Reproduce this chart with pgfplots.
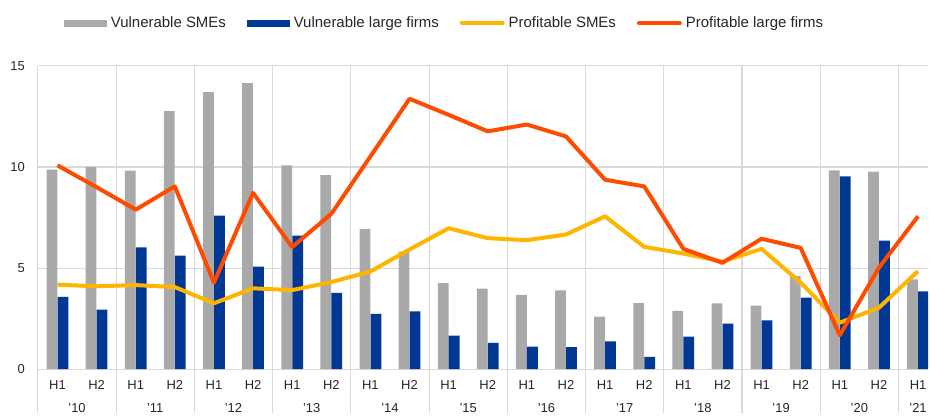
\documentclass[border=0pt]{standalone}
\usepackage{fontspec}
\setmainfont{Liberation Sans}
\usepackage{pgfplots}
\usepackage{pgfplotstable}
\pgfplotsset{compat=1.18}
\definecolor{greybar}{HTML}{A9A9A9}
\definecolor{bluebar}{HTML}{003894}
\definecolor{yelline}{HTML}{FFB400}
\definecolor{orline}{HTML}{FF4B00}
\definecolor{gridc}{HTML}{D9D9D9}
\pgfplotstableread{
x vs vl ps pl
0 9.87 3.58 4.18 10.08
1 10.00 2.94 4.10 9.00
2 9.82 6.02 4.16 7.89
3 12.76 5.62 4.06 9.04
4 13.70 7.60 3.26 4.28
5 14.14 5.07 4.00 8.72
6 10.08 6.61 3.91 6.04
7 9.60 3.77 4.31 7.68
8 6.94 2.73 4.83 10.52
9 5.82 2.86 5.92 13.37
10 4.26 1.66 6.97 12.58
11 3.98 1.30 6.48 11.76
12 3.68 1.12 6.38 12.10
13 3.90 1.09 6.66 11.51
14 2.60 1.37 7.56 9.37
15 3.27 0.61 6.05 9.04
16 2.88 1.61 5.72 5.95
17 3.26 2.25 5.32 5.26
18 3.14 2.42 5.95 6.45
19 4.62 3.54 4.28 6.00
20 9.83 9.54 2.30 1.68
21 9.77 6.36 3.04 5.02
22 4.44 3.85 4.85 7.56
}\datatable
\begin{document}
\begin{tikzpicture}
\path (0bp,0bp) rectangle (930bp,414bp);
\begin{axis}[
  at={(38bp,44bp)}, anchor=south west,
  scale only axis, width=892bp, height=304bp,
  xmin=-0.5, xmax=22.255, ymin=0, ymax=15,
  ytick={0,5,10,15},
  xtick={0,...,22},
  xticklabels={H1,H2,H1,H2,H1,H2,H1,H2,H1,H2,H1,H2,H1,H2,H1,H2,H1,H2,H1,H2,H1,H2,H1},
  minor xtick={-0.5,1.5,...,21.5},
  extra x ticks={0.5,2.5,4.5,6.5,8.5,10.5,12.5,14.5,16.5,18.5,20.5,22},
  extra x tick labels={'10,'11,'12,'13,'14,'15,'16,'17,'18,'19,'20,'21},
  extra x tick style={xticklabel style={yshift=-23bp}},
  ymajorgrids, xminorgrids,
  major grid style={gridc, line width=1.1bp},
  minor grid style={gridc, line width=1.1bp},
  axis x line*=bottom, axis y line*=left,
  axis line style={gridc, line width=1.1bp},
  tick align=outside,
  major tick length=0pt,
  minor tick length=43.5bp,
  minor tick style={gridc, line width=1.1bp},
  tick label style={font=\fontsize{13bp}{15bp}\selectfont, text=black!85},
  xticklabel style={anchor=center, yshift=-16bp},
  yticklabel style={anchor=east, inner sep=0pt, xshift=-13bp},
  /pgf/number format/assume math mode=true,
  legend style={at={(axis description cs:0.4568,1.141)}, anchor=center, draw=none, fill=none,
    font=\fontsize{15bp}{18bp}\selectfont, text=black!85,
    /tikz/every even column/.append style={column sep=19bp},
    /tikz/every odd column/.append style={column sep=2bp}},
  legend columns=4,
  legend cell align=left,
]
\addplot[ybar, bar width=10.8bp, bar shift=-5.5bp, fill=greybar, draw=none,
  legend image code/.code={\fill[greybar] (0bp,-3.5bp) rectangle (43bp,3.5bp);}]
  table[x=x,y=vs]{\datatable};
\addlegendentry{Vulnerable SMEs}
\addplot[ybar, bar width=10.8bp, bar shift=5.5bp, fill=bluebar, draw=none,
  legend image code/.code={\fill[bluebar] (0bp,-3.5bp) rectangle (43bp,3.5bp);}]
  table[x=x,y=vl]{\datatable};
\addlegendentry{Vulnerable large firms}
\addplot[yelline, line width=4bp, line join=round, mark=none,
  legend image code/.code={\draw[yelline, line width=4bp, line cap=round] (2bp,0) -- (43bp,0);}]
  table[x=x,y=ps]{\datatable};
\addlegendentry{Profitable SMEs}
\addplot[orline, line width=4bp, line join=round, mark=none,
  legend image code/.code={\draw[orline, line width=4bp, line cap=round] (2bp,0) -- (43bp,0);}]
  table[x=x,y=pl]{\datatable};
\addlegendentry{Profitable large firms}
\end{axis}
\end{tikzpicture}
\end{document}
